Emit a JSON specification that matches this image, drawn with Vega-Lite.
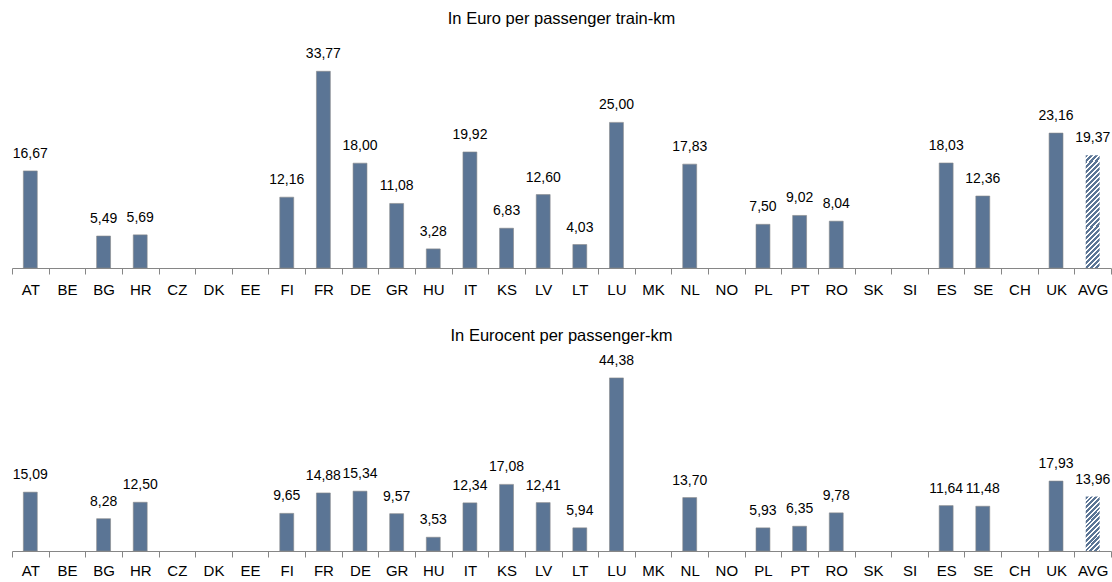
{
  "$schema": "https://vega.github.io/schema/vega-lite/v6.json",
  "padding": {"left": 11, "top": 11, "right": 2, "bottom": 0},
  "spacing": 30,
  "background": "white",
  "datasets": {
    "rail": [
      {"country": "AT", "train_km": 16.67, "pass_km": 15.09},
      {"country": "BE", "train_km": null, "pass_km": null},
      {"country": "BG", "train_km": 5.49, "pass_km": 8.28},
      {"country": "HR", "train_km": 5.69, "pass_km": 12.50},
      {"country": "CZ", "train_km": null, "pass_km": null},
      {"country": "DK", "train_km": null, "pass_km": null},
      {"country": "EE", "train_km": null, "pass_km": null},
      {"country": "FI", "train_km": 12.16, "pass_km": 9.65},
      {"country": "FR", "train_km": 33.77, "pass_km": 14.88},
      {"country": "DE", "train_km": 18.00, "pass_km": 15.34},
      {"country": "GR", "train_km": 11.08, "pass_km": 9.57},
      {"country": "HU", "train_km": 3.28, "pass_km": 3.53},
      {"country": "IT", "train_km": 19.92, "pass_km": 12.34},
      {"country": "KS", "train_km": 6.83, "pass_km": 17.08},
      {"country": "LV", "train_km": 12.60, "pass_km": 12.41},
      {"country": "LT", "train_km": 4.03, "pass_km": 5.94},
      {"country": "LU", "train_km": 25.00, "pass_km": 44.38},
      {"country": "MK", "train_km": null, "pass_km": null},
      {"country": "NL", "train_km": 17.83, "pass_km": 13.70},
      {"country": "NO", "train_km": null, "pass_km": null},
      {"country": "PL", "train_km": 7.50, "pass_km": 5.93},
      {"country": "PT", "train_km": 9.02, "pass_km": 6.35},
      {"country": "RO", "train_km": 8.04, "pass_km": 9.78},
      {"country": "SK", "train_km": null, "pass_km": null},
      {"country": "SI", "train_km": null, "pass_km": null},
      {"country": "ES", "train_km": 18.03, "pass_km": 11.64},
      {"country": "SE", "train_km": 12.36, "pass_km": 11.48},
      {"country": "CH", "train_km": null, "pass_km": null},
      {"country": "UK", "train_km": 23.16, "pass_km": 17.93},
      {"country": "AVG", "train_km": 19.37, "pass_km": 13.96}
    ]
  },
  "config": {
    "locale": {"number": {"decimal": ",", "thousands": ".", "grouping": [3], "currency": ["", " €"]}},
    "view": {"stroke": null},
    "font": "Liberation Sans",
    "title": {"fontSize": 16.5, "fontWeight": "normal", "font": "Liberation Sans", "color": "#000000", "anchor": "middle"},
    "axis": {
      "domainColor": "#868686", "tickColor": "#868686", "tickSize": 6,
      "labelFontSize": 15, "labelColor": "#000000", "labelFont": "Liberation Sans",
      "labelPadding": 8, "grid": false
    }
  },
  "vconcat": [
    {
      "width": 1099,
      "height": 233,
      "title": {"text": "In Euro per passenger train-km", "offset": 7.5},
      "data": {"name": "rail"},
      "encoding": {
        "x": {
          "field": "country", "type": "nominal", "sort": null,
          "scale": {"domain": ["AT","BE","BG","HR","CZ","DK","EE","FI","FR","DE","GR","HU","IT","KS","LV","LT","LU","MK","NL","NO","PL","PT","RO","SK","SI","ES","SE","CH","UK","AVG"], "paddingInner": 0, "paddingOuter": 0},
          "axis": {"title": null, "labelAngle": 0, "tickBand": "extent"}
        },
        "y": {"field": "train_km", "type": "quantitative", "scale": {"domain": [0, 40]}, "axis": null}
      },
      "layer": [
        {
          "transform": [{"filter": "datum.country !== 'AVG'"}],
          "mark": {"type": "bar", "width": {"band": 0.38}, "color": "#5B7595", "stroke": "#8a8a8a", "strokeWidth": 0.6}
        },
        {
          "transform": [{"filter": "datum.country === 'AVG'"}],
          "mark": {"type": "bar", "width": {"band": 0.38}, "fill": {
            "gradient": "linear", "x1": 0, "y1": 0, "x2": 0.1385, "y2": 1.1077,
            "stops": [
              {"offset": 0, "color": "#5B7595"}, {"offset": 0.024, "color": "#5B7595"}, {"offset": 0.024, "color": "#ffffff"}, {"offset": 0.04, "color": "#ffffff"},
              {"offset": 0.04, "color": "#5B7595"}, {"offset": 0.064, "color": "#5B7595"}, {"offset": 0.064, "color": "#ffffff"}, {"offset": 0.08, "color": "#ffffff"},
              {"offset": 0.08, "color": "#5B7595"}, {"offset": 0.104, "color": "#5B7595"}, {"offset": 0.104, "color": "#ffffff"}, {"offset": 0.12, "color": "#ffffff"},
              {"offset": 0.12, "color": "#5B7595"}, {"offset": 0.144, "color": "#5B7595"}, {"offset": 0.144, "color": "#ffffff"}, {"offset": 0.16, "color": "#ffffff"},
              {"offset": 0.16, "color": "#5B7595"}, {"offset": 0.184, "color": "#5B7595"}, {"offset": 0.184, "color": "#ffffff"}, {"offset": 0.2, "color": "#ffffff"},
              {"offset": 0.2, "color": "#5B7595"}, {"offset": 0.224, "color": "#5B7595"}, {"offset": 0.224, "color": "#ffffff"}, {"offset": 0.24, "color": "#ffffff"},
              {"offset": 0.24, "color": "#5B7595"}, {"offset": 0.264, "color": "#5B7595"}, {"offset": 0.264, "color": "#ffffff"}, {"offset": 0.28, "color": "#ffffff"},
              {"offset": 0.28, "color": "#5B7595"}, {"offset": 0.304, "color": "#5B7595"}, {"offset": 0.304, "color": "#ffffff"}, {"offset": 0.32, "color": "#ffffff"},
              {"offset": 0.32, "color": "#5B7595"}, {"offset": 0.344, "color": "#5B7595"}, {"offset": 0.344, "color": "#ffffff"}, {"offset": 0.36, "color": "#ffffff"},
              {"offset": 0.36, "color": "#5B7595"}, {"offset": 0.384, "color": "#5B7595"}, {"offset": 0.384, "color": "#ffffff"}, {"offset": 0.4, "color": "#ffffff"},
              {"offset": 0.4, "color": "#5B7595"}, {"offset": 0.424, "color": "#5B7595"}, {"offset": 0.424, "color": "#ffffff"}, {"offset": 0.44, "color": "#ffffff"},
              {"offset": 0.44, "color": "#5B7595"}, {"offset": 0.464, "color": "#5B7595"}, {"offset": 0.464, "color": "#ffffff"}, {"offset": 0.48, "color": "#ffffff"},
              {"offset": 0.48, "color": "#5B7595"}, {"offset": 0.504, "color": "#5B7595"}, {"offset": 0.504, "color": "#ffffff"}, {"offset": 0.52, "color": "#ffffff"},
              {"offset": 0.52, "color": "#5B7595"}, {"offset": 0.544, "color": "#5B7595"}, {"offset": 0.544, "color": "#ffffff"}, {"offset": 0.56, "color": "#ffffff"},
              {"offset": 0.56, "color": "#5B7595"}, {"offset": 0.584, "color": "#5B7595"}, {"offset": 0.584, "color": "#ffffff"}, {"offset": 0.6, "color": "#ffffff"},
              {"offset": 0.6, "color": "#5B7595"}, {"offset": 0.624, "color": "#5B7595"}, {"offset": 0.624, "color": "#ffffff"}, {"offset": 0.64, "color": "#ffffff"},
              {"offset": 0.64, "color": "#5B7595"}, {"offset": 0.664, "color": "#5B7595"}, {"offset": 0.664, "color": "#ffffff"}, {"offset": 0.68, "color": "#ffffff"},
              {"offset": 0.68, "color": "#5B7595"}, {"offset": 0.704, "color": "#5B7595"}, {"offset": 0.704, "color": "#ffffff"}, {"offset": 0.72, "color": "#ffffff"},
              {"offset": 0.72, "color": "#5B7595"}, {"offset": 0.744, "color": "#5B7595"}, {"offset": 0.744, "color": "#ffffff"}, {"offset": 0.76, "color": "#ffffff"},
              {"offset": 0.76, "color": "#5B7595"}, {"offset": 0.784, "color": "#5B7595"}, {"offset": 0.784, "color": "#ffffff"}, {"offset": 0.8, "color": "#ffffff"},
              {"offset": 0.8, "color": "#5B7595"}, {"offset": 0.824, "color": "#5B7595"}, {"offset": 0.824, "color": "#ffffff"}, {"offset": 0.84, "color": "#ffffff"},
              {"offset": 0.84, "color": "#5B7595"}, {"offset": 0.864, "color": "#5B7595"}, {"offset": 0.864, "color": "#ffffff"}, {"offset": 0.88, "color": "#ffffff"},
              {"offset": 0.88, "color": "#5B7595"}, {"offset": 0.904, "color": "#5B7595"}, {"offset": 0.904, "color": "#ffffff"}, {"offset": 0.92, "color": "#ffffff"},
              {"offset": 0.92, "color": "#5B7595"}, {"offset": 0.944, "color": "#5B7595"}, {"offset": 0.944, "color": "#ffffff"}, {"offset": 0.96, "color": "#ffffff"},
              {"offset": 0.96, "color": "#5B7595"}, {"offset": 0.984, "color": "#5B7595"}, {"offset": 0.984, "color": "#ffffff"}, {"offset": 1, "color": "#ffffff"}
            ]}}
        },
        {
          "mark": {"type": "text", "baseline": "alphabetic", "dy": -13, "fontSize": 14, "color": "#000000"},
          "encoding": {"text": {"field": "train_km", "type": "quantitative", "format": ".2f"}}
        }
      ]
    },
    {
      "width": 1099,
      "height": 195,
      "title": {"text": "In Eurocent per passenger-km", "offset": 9.5},
      "data": {"name": "rail"},
      "encoding": {
        "x": {
          "field": "country", "type": "nominal", "sort": null,
          "scale": {"domain": ["AT","BE","BG","HR","CZ","DK","EE","FI","FR","DE","GR","HU","IT","KS","LV","LT","LU","MK","NL","NO","PL","PT","RO","SK","SI","ES","SE","CH","UK","AVG"], "paddingInner": 0, "paddingOuter": 0},
          "axis": {"title": null, "labelAngle": 0, "tickBand": "extent", "labelPadding": 6}
        },
        "y": {"field": "pass_km", "type": "quantitative", "scale": {"domain": [0, 50]}, "axis": null}
      },
      "layer": [
        {
          "transform": [{"filter": "datum.country !== 'AVG'"}],
          "mark": {"type": "bar", "width": {"band": 0.38}, "color": "#5B7595", "stroke": "#8a8a8a", "strokeWidth": 0.6}
        },
        {
          "transform": [{"filter": "datum.country === 'AVG'"}],
          "mark": {"type": "bar", "width": {"band": 0.38}, "fill": {
            "gradient": "linear", "x1": 0, "y1": 0, "x2": 0.3056, "y2": 1.18,
            "stops": [
              {"offset": 0, "color": "#5B7595"}, {"offset": 0.042, "color": "#5B7595"}, {"offset": 0.042, "color": "#ffffff"}, {"offset": 0.07, "color": "#ffffff"},
              {"offset": 0.07, "color": "#5B7595"}, {"offset": 0.112, "color": "#5B7595"}, {"offset": 0.112, "color": "#ffffff"}, {"offset": 0.14, "color": "#ffffff"},
              {"offset": 0.14, "color": "#5B7595"}, {"offset": 0.182, "color": "#5B7595"}, {"offset": 0.182, "color": "#ffffff"}, {"offset": 0.21, "color": "#ffffff"},
              {"offset": 0.21, "color": "#5B7595"}, {"offset": 0.252, "color": "#5B7595"}, {"offset": 0.252, "color": "#ffffff"}, {"offset": 0.28, "color": "#ffffff"},
              {"offset": 0.28, "color": "#5B7595"}, {"offset": 0.322, "color": "#5B7595"}, {"offset": 0.322, "color": "#ffffff"}, {"offset": 0.35, "color": "#ffffff"},
              {"offset": 0.35, "color": "#5B7595"}, {"offset": 0.392, "color": "#5B7595"}, {"offset": 0.392, "color": "#ffffff"}, {"offset": 0.42, "color": "#ffffff"},
              {"offset": 0.42, "color": "#5B7595"}, {"offset": 0.462, "color": "#5B7595"}, {"offset": 0.462, "color": "#ffffff"}, {"offset": 0.49, "color": "#ffffff"},
              {"offset": 0.49, "color": "#5B7595"}, {"offset": 0.532, "color": "#5B7595"}, {"offset": 0.532, "color": "#ffffff"}, {"offset": 0.56, "color": "#ffffff"},
              {"offset": 0.56, "color": "#5B7595"}, {"offset": 0.602, "color": "#5B7595"}, {"offset": 0.602, "color": "#ffffff"}, {"offset": 0.63, "color": "#ffffff"},
              {"offset": 0.63, "color": "#5B7595"}, {"offset": 0.672, "color": "#5B7595"}, {"offset": 0.672, "color": "#ffffff"}, {"offset": 0.7, "color": "#ffffff"},
              {"offset": 0.7, "color": "#5B7595"}, {"offset": 0.742, "color": "#5B7595"}, {"offset": 0.742, "color": "#ffffff"}, {"offset": 0.77, "color": "#ffffff"},
              {"offset": 0.77, "color": "#5B7595"}, {"offset": 0.812, "color": "#5B7595"}, {"offset": 0.812, "color": "#ffffff"}, {"offset": 0.84, "color": "#ffffff"},
              {"offset": 0.84, "color": "#5B7595"}, {"offset": 0.882, "color": "#5B7595"}, {"offset": 0.882, "color": "#ffffff"}, {"offset": 0.91, "color": "#ffffff"},
              {"offset": 0.91, "color": "#5B7595"}, {"offset": 0.952, "color": "#5B7595"}, {"offset": 0.952, "color": "#ffffff"}, {"offset": 0.98, "color": "#ffffff"},
              {"offset": 0.98, "color": "#5B7595"}, {"offset": 1, "color": "#5B7595"}
            ]}}
        },
        {
          "mark": {"type": "text", "baseline": "alphabetic", "dy": -13, "fontSize": 14, "color": "#000000"},
          "encoding": {"text": {"field": "pass_km", "type": "quantitative", "format": ".2f"}}
        }
      ]
    }
  ]
}
